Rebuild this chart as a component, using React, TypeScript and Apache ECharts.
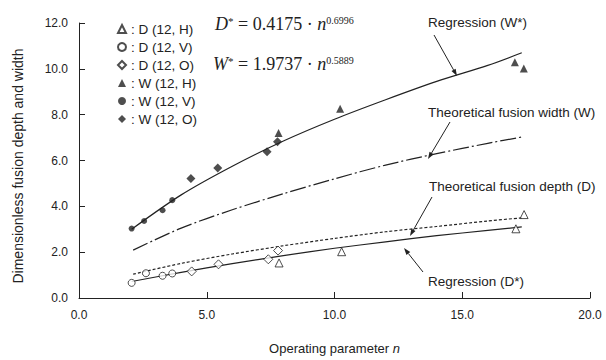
import React, { useEffect, useRef } from "react";
import * as echarts from "echarts";

// ---- measured points ----
const nDH = [7.83, 10.28, 17.1, 17.42];
const vDH = [1.53, 2.02, 3.02, 3.64];
const nDV = [2.06, 2.62, 3.27, 3.65];
const vDV = [0.66, 1.08, 0.97, 1.07];
const nDO = [4.41, 5.46, 7.41, 7.79];
const vDO = [1.16, 1.47, 1.69, 2.07];
const nWH = [7.81, 10.22, 17.06, 17.41];
const vWH = [7.2, 8.26, 10.29, 10.01];
const nWV = [2.06, 2.55, 3.27, 3.65];
const vWV = [3.03, 3.36, 3.83, 4.27];
const nWO = [4.38, 5.43, 7.36, 7.77];
const vWO = [5.21, 5.67, 6.38, 6.82];

// ---- curves ----
const regWn = [2.06, 4, 6, 8, 10, 12, 14, 16, 17.33];
const regWv = [3.0, 4.5, 5.75, 6.85, 7.8, 8.65, 9.45, 10.15, 10.7];
const theoWn = [2.12, 4, 6, 8, 10, 12, 14, 16, 17.4];
const theoWv = [2.09, 3.05, 3.85, 4.55, 5.2, 5.8, 6.3, 6.75, 7.04];
const theoDn = [2.12, 4, 6, 8, 10, 12, 14, 16, 17.36];
const theoDv = [1.04, 1.51, 1.92, 2.28, 2.6, 2.89, 3.12, 3.36, 3.5];
const regDn = [2.06, 4, 6, 8, 10, 12, 14, 16, 17.33];
const regDv = [0.72, 1.12, 1.5, 1.85, 2.17, 2.45, 2.72, 2.95, 3.1];

const legendNames = ["D (12, H)", "D (12, V)", "D (12, O)", "W (12, H)", "W (12, V)", "W (12, O)"];
const xTicks = [0, 5, 10, 15, 20];
const yTicks = [0, 2, 4, 6, 8, 10, 12];
const yTitle = "Dimensionless fusion depth and width";

const INK = "#222";
const SANS = "Liberation Sans, Arial, sans-serif";
const SERIF = "Liberation Serif, Times New Roman, serif";

const zip = (a: number[], b: number[]) => a.map((x, i) => [x, b[i]]);

function arrow(x1: number, y1: number, x2: number, y2: number) {
  const ang = Math.atan2(y2 - y1, x2 - x1);
  const L = 7, W = 2.4;
  const bx = x2 - L * Math.cos(ang), by = y2 - L * Math.sin(ang);
  const px = -Math.sin(ang) * W, py = Math.cos(ang) * W;
  return [
    { type: "line", silent: true, shape: { x1, y1, x2: bx, y2: by }, style: { stroke: INK, lineWidth: 1 } },
    {
      type: "polygon",
      silent: true,
      shape: { points: [[x2, y2], [bx + px, by + py], [bx - px, by - py]] },
      style: { fill: INK },
    },
  ];
}

function label(text: string, x: number, y: number) {
  return {
    type: "text",
    x,
    y,
    style: { text, fill: INK, font: `13.5px ${SANS}`, textVerticalAlign: "middle", textAlign: "left" },
  };
}

function equation(sym: string, coef: string, expo: string, x: number, y: number) {
  return {
    type: "text",
    x,
    y,
    style: {
      text: `{i|${sym}}{s|*}{m| = ${coef} · }{i|n}{e|${expo}}`,
      fill: INK,
      textVerticalAlign: "middle",
      rich: {
        i: { fontFamily: SERIF, fontSize: 18, fontStyle: "italic", fill: INK, color: INK },
        m: { fontFamily: SERIF, fontSize: 18, fill: INK, color: INK },
        s: { fontFamily: SERIF, fontSize: 11, verticalAlign: "top", fill: INK, color: INK },
        e: { fontFamily: SERIF, fontSize: 10, verticalAlign: "top", fill: INK, color: INK },
      },
    },
  };
}

const openStyle = { color: "#fff", borderColor: INK, borderWidth: 1 };
const fillStyle = { color: INK, borderColor: INK, borderWidth: 0 };

export default function App() {
  const ref = useRef<HTMLDivElement>(null);
  useEffect(() => {
    if (!ref.current) return;
    const chart = echarts.init(ref.current, null, { renderer: "svg" });
    const lineSeries = (name: string, xs: number[], ys: number[], type: any) => ({
      name,
      type: "line",
      data: zip(xs, ys),
      smooth: 0.3,
      showSymbol: false,
      symbol: "none",
      silent: true,
      z: 1,
      lineStyle: { color: INK, width: 1.2, type },
    });
    const scatter = (name: string, xs: number[], ys: number[], symbol: string, size: number, style: any) => ({
      name,
      type: "scatter",
      data: zip(xs, ys),
      symbol,
      symbolSize: size,
      itemStyle: style,
      z: 3,
    });
    chart.setOption({
      animation: false,
      backgroundColor: "#fff",
      grid: { left: 79, right: 16, top: 23, bottom: 52, containLabel: false },
      legend: {
        data: legendNames,
        orient: "vertical",
        left: 112,
        top: 17,
        itemWidth: 8,
        itemHeight: 8,
        itemGap: 4,
        selectedMode: false,
        formatter: (n: string) => ": " + n,
        textStyle: { fontFamily: SANS, fontSize: 13.5, color: INK },
      },
      xAxis: {
        type: "value",
        min: 0,
        max: 20,
        interval: 5,
        name: "Operating parameter {i|n}",
        nameLocation: "middle",
        nameGap: 44,
        nameTextStyle: {
          fontFamily: SANS,
          fontSize: 13,
          color: INK,
          rich: { i: { fontFamily: SANS, fontSize: 13, fontStyle: "italic", color: INK } },
        },
        axisLine: { show: true, lineStyle: { color: INK, width: 1 } },
        axisTick: { show: true, inside: true, length: 6, lineStyle: { color: INK } },
        splitLine: { show: false },
        axisLabel: {
          margin: 11,
          fontFamily: SANS,
          fontSize: 12,
          color: INK,
          formatter: (v: number) => (xTicks.includes(v) ? v.toFixed(1) : ""),
        },
      },
      yAxis: {
        type: "value",
        min: 0,
        max: 12,
        interval: 2,
        axisLine: { show: true, lineStyle: { color: INK, width: 1 } },
        axisTick: { show: true, inside: true, length: 6, lineStyle: { color: INK } },
        splitLine: { show: false },
        axisLabel: {
          margin: 11,
          fontFamily: SANS,
          fontSize: 12,
          color: INK,
          formatter: (v: number) => (yTicks.includes(v) ? v.toFixed(1) : ""),
        },
      },
      series: [
        lineSeries("Regression (W*)", regWn, regWv, "solid"),
        lineSeries("Theoretical fusion width (W)", theoWn, theoWv, [16, 3, 2, 3]),
        lineSeries("Theoretical fusion depth (D)", theoDn, theoDv, [3, 2]),
        lineSeries("Regression (D*)", regDn, regDv, "solid"),
        scatter(legendNames[0], nDH, vDH, "triangle", 8, openStyle),
        scatter(legendNames[1], nDV, vDV, "circle", 7, openStyle),
        scatter(legendNames[2], nDO, vDO, "diamond", 9, openStyle),
        scatter(legendNames[3], nWH, vWH, "triangle", 8, fillStyle),
        scatter(legendNames[4], nWV, vWV, "circle", 6, fillStyle),
        scatter(legendNames[5], nWO, vWO, "diamond", 9, fillStyle),
      ],
      graphic: [
        {
          type: "text",
          x: 18,
          y: 166,
          rotation: Math.PI / 2,
          style: {
            text: yTitle,
            fill: INK,
            font: `14px ${SANS}`,
            textAlign: "center",
            textVerticalAlign: "middle",
          },
        },
        equation("D", "0.4175", "0.6996", 215, 24),
        equation("W", "1.9737", "0.5889", 213, 64),
        label("Regression (W*)", 428, 22),
        label("Theoretical fusion width (W)", 428, 112),
        label("Theoretical fusion depth (D)", 429, 186),
        label("Regression (D*)", 428, 281),
        ...arrow(434, 35, 457, 76),
        ...arrow(450, 122, 428, 159),
        ...arrow(432, 197, 410, 236),
        ...arrow(423, 272, 404, 248),
      ],
    });
    return () => chart.dispose();
  }, []);
  return (
    <div
      ref={ref}
      style={{ position: "absolute", left: 0, top: 0, width: 606, height: 360 }}
    />
  );
}
